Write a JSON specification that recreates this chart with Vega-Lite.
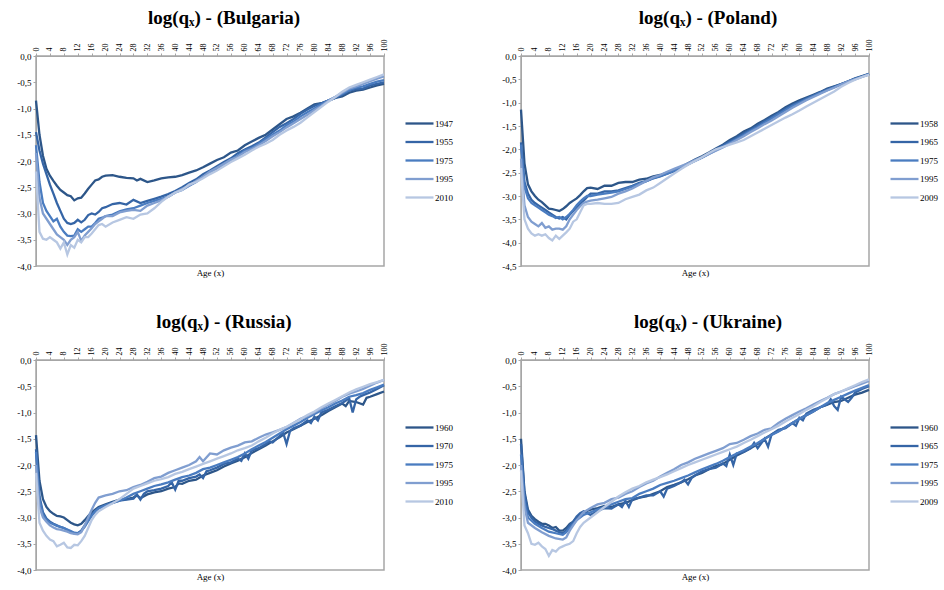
{
"$schema": "https://vega.github.io/schema/vega-lite/v6.json",
"background": "white",
"padding": {"left": 16, "top": 8, "right": 0, "bottom": 0},
"config": {
  "font": "Liberation Serif",
  "view": {"stroke": "#A6A6A6", "strokeWidth": 1.5},
  "axis": {"labelFont": "Liberation Serif", "titleFont": "Liberation Serif", "labelFontSize": 9, "titleFontSize": 9, "titleFontWeight": "normal", "labelColor": "#000", "titleColor": "#000", "domainColor": "#A6A6A6", "tickColor": "#A6A6A6", "grid": false, "tickSize": 3, "labelPadding": 2},
  "legend": {"labelFont": "Liberation Serif", "labelFontSize": 9, "labelColor": "#000", "orient": "none", "legendX": 375, "legendY": 59, "title": null, "symbolType": "M-2,0H2", "symbolSize": 196, "symbolStrokeWidth": 2.5, "rowPadding": 4.5, "labelOffset": 7},
  "title": {"font": "Liberation Serif", "fontSize": 19, "fontWeight": "bold", "color": "#000"},
  "line": {"strokeWidth": 2.3}
},
"columns": 2,
"spacing": {"row": 94, "column": 137},
"bounds": "flush",
"datasets": {
"bg": [
{"s":"1947","a":0,"v":-0.85},{"s":"1947","a":1,"v":-1.5},{"s":"1947","a":2,"v":-1.9},{"s":"1947","a":3,"v":-2.15},{"s":"1947","a":4,"v":-2.28},{"s":"1947","a":5,"v":-2.38},{"s":"1947","a":6,"v":-2.47},{"s":"1947","a":7,"v":-2.55},{"s":"1947","a":8,"v":-2.6},{"s":"1947","a":9,"v":-2.65},{"s":"1947","a":10,"v":-2.67},{"s":"1947","a":11,"v":-2.75},{"s":"1947","a":12,"v":-2.71},{"s":"1947","a":13,"v":-2.7},{"s":"1947","a":14,"v":-2.62},{"s":"1947","a":15,"v":-2.53},{"s":"1947","a":16,"v":-2.45},{"s":"1947","a":17,"v":-2.37},{"s":"1947","a":18,"v":-2.35},{"s":"1947","a":19,"v":-2.3},{"s":"1947","a":20,"v":-2.28},{"s":"1947","a":22,"v":-2.27},{"s":"1947","a":24,"v":-2.3},{"s":"1947","a":26,"v":-2.32},{"s":"1947","a":28,"v":-2.33},{"s":"1947","a":29,"v":-2.37},{"s":"1947","a":30,"v":-2.34},{"s":"1947","a":32,"v":-2.4},{"s":"1947","a":34,"v":-2.37},{"s":"1947","a":36,"v":-2.33},{"s":"1947","a":38,"v":-2.31},{"s":"1947","a":40,"v":-2.3},{"s":"1947","a":42,"v":-2.27},{"s":"1947","a":44,"v":-2.22},{"s":"1947","a":46,"v":-2.18},{"s":"1947","a":48,"v":-2.12},{"s":"1947","a":50,"v":-2.05},{"s":"1947","a":52,"v":-1.98},{"s":"1947","a":54,"v":-1.93},{"s":"1947","a":56,"v":-1.84},{"s":"1947","a":58,"v":-1.8},{"s":"1947","a":60,"v":-1.7},{"s":"1947","a":62,"v":-1.63},{"s":"1947","a":64,"v":-1.56},{"s":"1947","a":66,"v":-1.5},{"s":"1947","a":68,"v":-1.4},{"s":"1947","a":70,"v":-1.3},{"s":"1947","a":72,"v":-1.2},{"s":"1947","a":74,"v":-1.15},{"s":"1947","a":76,"v":-1.08},{"s":"1947","a":78,"v":-1.0},{"s":"1947","a":80,"v":-0.92},{"s":"1947","a":82,"v":-0.9},{"s":"1947","a":84,"v":-0.85},{"s":"1947","a":86,"v":-0.8},{"s":"1947","a":88,"v":-0.77},{"s":"1947","a":90,"v":-0.7},{"s":"1947","a":92,"v":-0.66},{"s":"1947","a":94,"v":-0.64},{"s":"1947","a":96,"v":-0.6},{"s":"1947","a":98,"v":-0.56},{"s":"1947","a":100,"v":-0.53},
{"s":"1955","a":0,"v":-1.45},{"s":"1955","a":1,"v":-1.8},{"s":"1955","a":2,"v":-2.05},{"s":"1955","a":3,"v":-2.25},{"s":"1955","a":4,"v":-2.45},{"s":"1955","a":5,"v":-2.62},{"s":"1955","a":6,"v":-2.8},{"s":"1955","a":7,"v":-2.95},{"s":"1955","a":8,"v":-3.1},{"s":"1955","a":9,"v":-3.18},{"s":"1955","a":10,"v":-3.2},{"s":"1955","a":11,"v":-3.18},{"s":"1955","a":12,"v":-3.12},{"s":"1955","a":13,"v":-3.17},{"s":"1955","a":14,"v":-3.12},{"s":"1955","a":15,"v":-3.03},{"s":"1955","a":16,"v":-3.0},{"s":"1955","a":17,"v":-3.02},{"s":"1955","a":18,"v":-2.97},{"s":"1955","a":19,"v":-2.9},{"s":"1955","a":20,"v":-2.88},{"s":"1955","a":22,"v":-2.82},{"s":"1955","a":24,"v":-2.8},{"s":"1955","a":26,"v":-2.83},{"s":"1955","a":28,"v":-2.74},{"s":"1955","a":30,"v":-2.8},{"s":"1955","a":32,"v":-2.76},{"s":"1955","a":34,"v":-2.72},{"s":"1955","a":36,"v":-2.68},{"s":"1955","a":38,"v":-2.63},{"s":"1955","a":40,"v":-2.57},{"s":"1955","a":42,"v":-2.5},{"s":"1955","a":44,"v":-2.42},{"s":"1955","a":46,"v":-2.35},{"s":"1955","a":48,"v":-2.25},{"s":"1955","a":50,"v":-2.18},{"s":"1955","a":52,"v":-2.1},{"s":"1955","a":54,"v":-2.02},{"s":"1955","a":56,"v":-1.95},{"s":"1955","a":58,"v":-1.85},{"s":"1955","a":60,"v":-1.78},{"s":"1955","a":62,"v":-1.72},{"s":"1955","a":64,"v":-1.65},{"s":"1955","a":66,"v":-1.55},{"s":"1955","a":68,"v":-1.45},{"s":"1955","a":70,"v":-1.35},{"s":"1955","a":72,"v":-1.28},{"s":"1955","a":74,"v":-1.2},{"s":"1955","a":76,"v":-1.1},{"s":"1955","a":78,"v":-1.02},{"s":"1955","a":80,"v":-0.95},{"s":"1955","a":82,"v":-0.9},{"s":"1955","a":84,"v":-0.85},{"s":"1955","a":86,"v":-0.8},{"s":"1955","a":88,"v":-0.74},{"s":"1955","a":90,"v":-0.66},{"s":"1955","a":92,"v":-0.63},{"s":"1955","a":94,"v":-0.62},{"s":"1955","a":96,"v":-0.56},{"s":"1955","a":98,"v":-0.53},{"s":"1955","a":100,"v":-0.5},
{"s":"1975","a":0,"v":-1.7},{"s":"1975","a":1,"v":-2.4},{"s":"1975","a":2,"v":-2.8},{"s":"1975","a":3,"v":-2.95},{"s":"1975","a":4,"v":-3.05},{"s":"1975","a":5,"v":-3.15},{"s":"1975","a":6,"v":-3.1},{"s":"1975","a":7,"v":-3.25},{"s":"1975","a":8,"v":-3.35},{"s":"1975","a":9,"v":-3.42},{"s":"1975","a":10,"v":-3.43},{"s":"1975","a":11,"v":-3.42},{"s":"1975","a":12,"v":-3.3},{"s":"1975","a":13,"v":-3.35},{"s":"1975","a":14,"v":-3.3},{"s":"1975","a":15,"v":-3.25},{"s":"1975","a":16,"v":-3.25},{"s":"1975","a":17,"v":-3.18},{"s":"1975","a":18,"v":-3.1},{"s":"1975","a":19,"v":-3.08},{"s":"1975","a":20,"v":-3.05},{"s":"1975","a":22,"v":-3.02},{"s":"1975","a":24,"v":-2.96},{"s":"1975","a":26,"v":-2.92},{"s":"1975","a":28,"v":-2.9},{"s":"1975","a":30,"v":-2.85},{"s":"1975","a":32,"v":-2.8},{"s":"1975","a":34,"v":-2.76},{"s":"1975","a":36,"v":-2.72},{"s":"1975","a":38,"v":-2.68},{"s":"1975","a":40,"v":-2.6},{"s":"1975","a":42,"v":-2.55},{"s":"1975","a":44,"v":-2.47},{"s":"1975","a":46,"v":-2.4},{"s":"1975","a":48,"v":-2.3},{"s":"1975","a":50,"v":-2.22},{"s":"1975","a":52,"v":-2.15},{"s":"1975","a":54,"v":-2.08},{"s":"1975","a":56,"v":-1.98},{"s":"1975","a":58,"v":-1.9},{"s":"1975","a":60,"v":-1.8},{"s":"1975","a":62,"v":-1.75},{"s":"1975","a":64,"v":-1.67},{"s":"1975","a":66,"v":-1.58},{"s":"1975","a":68,"v":-1.5},{"s":"1975","a":70,"v":-1.42},{"s":"1975","a":72,"v":-1.32},{"s":"1975","a":74,"v":-1.25},{"s":"1975","a":76,"v":-1.15},{"s":"1975","a":78,"v":-1.07},{"s":"1975","a":80,"v":-1.0},{"s":"1975","a":82,"v":-0.92},{"s":"1975","a":84,"v":-0.85},{"s":"1975","a":86,"v":-0.78},{"s":"1975","a":88,"v":-0.72},{"s":"1975","a":90,"v":-0.65},{"s":"1975","a":92,"v":-0.6},{"s":"1975","a":94,"v":-0.58},{"s":"1975","a":96,"v":-0.53},{"s":"1975","a":98,"v":-0.49},{"s":"1975","a":100,"v":-0.46},
{"s":"1995","a":0,"v":-1.85},{"s":"1995","a":1,"v":-2.7},{"s":"1995","a":2,"v":-3.0},{"s":"1995","a":3,"v":-3.1},{"s":"1995","a":4,"v":-3.2},{"s":"1995","a":5,"v":-3.3},{"s":"1995","a":6,"v":-3.4},{"s":"1995","a":7,"v":-3.45},{"s":"1995","a":8,"v":-3.5},{"s":"1995","a":9,"v":-3.6},{"s":"1995","a":10,"v":-3.5},{"s":"1995","a":11,"v":-3.45},{"s":"1995","a":12,"v":-3.35},{"s":"1995","a":13,"v":-3.52},{"s":"1995","a":14,"v":-3.42},{"s":"1995","a":15,"v":-3.35},{"s":"1995","a":16,"v":-3.28},{"s":"1995","a":17,"v":-3.2},{"s":"1995","a":18,"v":-3.15},{"s":"1995","a":19,"v":-3.1},{"s":"1995","a":20,"v":-3.05},{"s":"1995","a":22,"v":-3.05},{"s":"1995","a":24,"v":-2.98},{"s":"1995","a":26,"v":-2.95},{"s":"1995","a":28,"v":-2.93},{"s":"1995","a":30,"v":-2.95},{"s":"1995","a":32,"v":-2.85},{"s":"1995","a":34,"v":-2.8},{"s":"1995","a":36,"v":-2.75},{"s":"1995","a":38,"v":-2.68},{"s":"1995","a":40,"v":-2.6},{"s":"1995","a":42,"v":-2.53},{"s":"1995","a":44,"v":-2.47},{"s":"1995","a":46,"v":-2.38},{"s":"1995","a":48,"v":-2.3},{"s":"1995","a":50,"v":-2.2},{"s":"1995","a":52,"v":-2.13},{"s":"1995","a":54,"v":-2.05},{"s":"1995","a":56,"v":-1.97},{"s":"1995","a":58,"v":-1.92},{"s":"1995","a":60,"v":-1.83},{"s":"1995","a":62,"v":-1.77},{"s":"1995","a":64,"v":-1.7},{"s":"1995","a":66,"v":-1.62},{"s":"1995","a":68,"v":-1.53},{"s":"1995","a":70,"v":-1.45},{"s":"1995","a":72,"v":-1.36},{"s":"1995","a":74,"v":-1.28},{"s":"1995","a":76,"v":-1.2},{"s":"1995","a":78,"v":-1.12},{"s":"1995","a":80,"v":-1.03},{"s":"1995","a":82,"v":-0.95},{"s":"1995","a":84,"v":-0.85},{"s":"1995","a":86,"v":-0.78},{"s":"1995","a":88,"v":-0.7},{"s":"1995","a":90,"v":-0.62},{"s":"1995","a":92,"v":-0.58},{"s":"1995","a":94,"v":-0.53},{"s":"1995","a":96,"v":-0.48},{"s":"1995","a":98,"v":-0.43},{"s":"1995","a":100,"v":-0.39},
{"s":"2010","a":0,"v":-2.2},{"s":"2010","a":1,"v":-3.35},{"s":"2010","a":2,"v":-3.48},{"s":"2010","a":3,"v":-3.5},{"s":"2010","a":4,"v":-3.45},{"s":"2010","a":5,"v":-3.5},{"s":"2010","a":6,"v":-3.55},{"s":"2010","a":7,"v":-3.67},{"s":"2010","a":8,"v":-3.55},{"s":"2010","a":9,"v":-3.78},{"s":"2010","a":10,"v":-3.6},{"s":"2010","a":11,"v":-3.65},{"s":"2010","a":12,"v":-3.5},{"s":"2010","a":13,"v":-3.55},{"s":"2010","a":14,"v":-3.45},{"s":"2010","a":15,"v":-3.45},{"s":"2010","a":16,"v":-3.38},{"s":"2010","a":17,"v":-3.3},{"s":"2010","a":18,"v":-3.22},{"s":"2010","a":19,"v":-3.2},{"s":"2010","a":20,"v":-3.25},{"s":"2010","a":22,"v":-3.17},{"s":"2010","a":24,"v":-3.12},{"s":"2010","a":26,"v":-3.07},{"s":"2010","a":28,"v":-3.1},{"s":"2010","a":30,"v":-3.02},{"s":"2010","a":32,"v":-3.0},{"s":"2010","a":34,"v":-2.9},{"s":"2010","a":36,"v":-2.78},{"s":"2010","a":38,"v":-2.68},{"s":"2010","a":40,"v":-2.6},{"s":"2010","a":42,"v":-2.55},{"s":"2010","a":44,"v":-2.45},{"s":"2010","a":46,"v":-2.4},{"s":"2010","a":48,"v":-2.33},{"s":"2010","a":50,"v":-2.25},{"s":"2010","a":52,"v":-2.18},{"s":"2010","a":54,"v":-2.1},{"s":"2010","a":56,"v":-2.02},{"s":"2010","a":58,"v":-1.95},{"s":"2010","a":60,"v":-1.88},{"s":"2010","a":62,"v":-1.8},{"s":"2010","a":64,"v":-1.73},{"s":"2010","a":66,"v":-1.67},{"s":"2010","a":68,"v":-1.6},{"s":"2010","a":70,"v":-1.5},{"s":"2010","a":72,"v":-1.42},{"s":"2010","a":74,"v":-1.35},{"s":"2010","a":76,"v":-1.27},{"s":"2010","a":78,"v":-1.17},{"s":"2010","a":80,"v":-1.07},{"s":"2010","a":82,"v":-0.97},{"s":"2010","a":84,"v":-0.87},{"s":"2010","a":86,"v":-0.78},{"s":"2010","a":88,"v":-0.68},{"s":"2010","a":90,"v":-0.6},{"s":"2010","a":92,"v":-0.55},{"s":"2010","a":94,"v":-0.5},{"s":"2010","a":96,"v":-0.45},{"s":"2010","a":98,"v":-0.4},{"s":"2010","a":100,"v":-0.35}
],
"pl": [
{"s":"1958","a":0,"v":-1.15},{"s":"1958","a":1,"v":-2.3},{"s":"1958","a":2,"v":-2.75},{"s":"1958","a":3,"v":-2.9},{"s":"1958","a":4,"v":-3.0},{"s":"1958","a":5,"v":-3.08},{"s":"1958","a":6,"v":-3.13},{"s":"1958","a":7,"v":-3.2},{"s":"1958","a":8,"v":-3.27},{"s":"1958","a":9,"v":-3.28},{"s":"1958","a":10,"v":-3.3},{"s":"1958","a":11,"v":-3.32},{"s":"1958","a":12,"v":-3.28},{"s":"1958","a":13,"v":-3.22},{"s":"1958","a":14,"v":-3.15},{"s":"1958","a":15,"v":-3.1},{"s":"1958","a":16,"v":-3.05},{"s":"1958","a":17,"v":-2.98},{"s":"1958","a":18,"v":-2.9},{"s":"1958","a":19,"v":-2.83},{"s":"1958","a":20,"v":-2.82},{"s":"1958","a":22,"v":-2.85},{"s":"1958","a":24,"v":-2.78},{"s":"1958","a":26,"v":-2.78},{"s":"1958","a":28,"v":-2.72},{"s":"1958","a":30,"v":-2.7},{"s":"1958","a":32,"v":-2.7},{"s":"1958","a":34,"v":-2.65},{"s":"1958","a":36,"v":-2.63},{"s":"1958","a":38,"v":-2.58},{"s":"1958","a":40,"v":-2.55},{"s":"1958","a":42,"v":-2.5},{"s":"1958","a":44,"v":-2.45},{"s":"1958","a":46,"v":-2.38},{"s":"1958","a":48,"v":-2.3},{"s":"1958","a":50,"v":-2.22},{"s":"1958","a":52,"v":-2.15},{"s":"1958","a":54,"v":-2.07},{"s":"1958","a":56,"v":-1.98},{"s":"1958","a":58,"v":-1.9},{"s":"1958","a":60,"v":-1.8},{"s":"1958","a":62,"v":-1.72},{"s":"1958","a":64,"v":-1.62},{"s":"1958","a":66,"v":-1.55},{"s":"1958","a":68,"v":-1.45},{"s":"1958","a":70,"v":-1.37},{"s":"1958","a":72,"v":-1.28},{"s":"1958","a":74,"v":-1.2},{"s":"1958","a":76,"v":-1.1},{"s":"1958","a":78,"v":-1.02},{"s":"1958","a":80,"v":-0.95},{"s":"1958","a":82,"v":-0.89},{"s":"1958","a":84,"v":-0.83},{"s":"1958","a":86,"v":-0.77},{"s":"1958","a":88,"v":-0.7},{"s":"1958","a":90,"v":-0.65},{"s":"1958","a":92,"v":-0.6},{"s":"1958","a":94,"v":-0.54},{"s":"1958","a":96,"v":-0.48},{"s":"1958","a":98,"v":-0.43},{"s":"1958","a":100,"v":-0.38},
{"s":"1965","a":0,"v":-1.85},{"s":"1965","a":1,"v":-2.7},{"s":"1965","a":2,"v":-2.95},{"s":"1965","a":3,"v":-3.08},{"s":"1965","a":4,"v":-3.15},{"s":"1965","a":5,"v":-3.2},{"s":"1965","a":6,"v":-3.25},{"s":"1965","a":7,"v":-3.3},{"s":"1965","a":8,"v":-3.35},{"s":"1965","a":9,"v":-3.4},{"s":"1965","a":10,"v":-3.45},{"s":"1965","a":11,"v":-3.48},{"s":"1965","a":12,"v":-3.45},{"s":"1965","a":13,"v":-3.5},{"s":"1965","a":14,"v":-3.4},{"s":"1965","a":15,"v":-3.32},{"s":"1965","a":16,"v":-3.25},{"s":"1965","a":17,"v":-3.17},{"s":"1965","a":18,"v":-3.1},{"s":"1965","a":19,"v":-3.02},{"s":"1965","a":20,"v":-2.95},{"s":"1965","a":22,"v":-2.95},{"s":"1965","a":24,"v":-2.9},{"s":"1965","a":26,"v":-2.9},{"s":"1965","a":28,"v":-2.88},{"s":"1965","a":30,"v":-2.83},{"s":"1965","a":32,"v":-2.78},{"s":"1965","a":34,"v":-2.72},{"s":"1965","a":36,"v":-2.68},{"s":"1965","a":38,"v":-2.62},{"s":"1965","a":40,"v":-2.58},{"s":"1965","a":42,"v":-2.52},{"s":"1965","a":44,"v":-2.47},{"s":"1965","a":46,"v":-2.4},{"s":"1965","a":48,"v":-2.32},{"s":"1965","a":50,"v":-2.24},{"s":"1965","a":52,"v":-2.17},{"s":"1965","a":54,"v":-2.09},{"s":"1965","a":56,"v":-2.0},{"s":"1965","a":58,"v":-1.92},{"s":"1965","a":60,"v":-1.83},{"s":"1965","a":62,"v":-1.75},{"s":"1965","a":64,"v":-1.66},{"s":"1965","a":66,"v":-1.58},{"s":"1965","a":68,"v":-1.49},{"s":"1965","a":70,"v":-1.4},{"s":"1965","a":72,"v":-1.31},{"s":"1965","a":74,"v":-1.22},{"s":"1965","a":76,"v":-1.13},{"s":"1965","a":78,"v":-1.05},{"s":"1965","a":80,"v":-0.98},{"s":"1965","a":82,"v":-0.91},{"s":"1965","a":84,"v":-0.85},{"s":"1965","a":86,"v":-0.78},{"s":"1965","a":88,"v":-0.72},{"s":"1965","a":90,"v":-0.66},{"s":"1965","a":92,"v":-0.6},{"s":"1965","a":94,"v":-0.55},{"s":"1965","a":96,"v":-0.49},{"s":"1965","a":98,"v":-0.44},{"s":"1965","a":100,"v":-0.39},
{"s":"1975","a":0,"v":-1.9},{"s":"1975","a":1,"v":-2.8},{"s":"1975","a":2,"v":-3.05},{"s":"1975","a":3,"v":-3.15},{"s":"1975","a":4,"v":-3.2},{"s":"1975","a":5,"v":-3.25},{"s":"1975","a":6,"v":-3.3},{"s":"1975","a":7,"v":-3.35},{"s":"1975","a":8,"v":-3.4},{"s":"1975","a":9,"v":-3.43},{"s":"1975","a":10,"v":-3.47},{"s":"1975","a":11,"v":-3.45},{"s":"1975","a":12,"v":-3.5},{"s":"1975","a":13,"v":-3.45},{"s":"1975","a":14,"v":-3.38},{"s":"1975","a":15,"v":-3.3},{"s":"1975","a":16,"v":-3.2},{"s":"1975","a":17,"v":-3.12},{"s":"1975","a":18,"v":-3.05},{"s":"1975","a":19,"v":-3.0},{"s":"1975","a":20,"v":-3.0},{"s":"1975","a":22,"v":-2.97},{"s":"1975","a":24,"v":-2.95},{"s":"1975","a":26,"v":-2.93},{"s":"1975","a":28,"v":-2.9},{"s":"1975","a":30,"v":-2.85},{"s":"1975","a":32,"v":-2.8},{"s":"1975","a":34,"v":-2.74},{"s":"1975","a":36,"v":-2.68},{"s":"1975","a":38,"v":-2.62},{"s":"1975","a":40,"v":-2.57},{"s":"1975","a":42,"v":-2.52},{"s":"1975","a":44,"v":-2.46},{"s":"1975","a":46,"v":-2.4},{"s":"1975","a":48,"v":-2.32},{"s":"1975","a":50,"v":-2.25},{"s":"1975","a":52,"v":-2.18},{"s":"1975","a":54,"v":-2.1},{"s":"1975","a":56,"v":-2.02},{"s":"1975","a":58,"v":-1.94},{"s":"1975","a":60,"v":-1.86},{"s":"1975","a":62,"v":-1.78},{"s":"1975","a":64,"v":-1.69},{"s":"1975","a":66,"v":-1.6},{"s":"1975","a":68,"v":-1.52},{"s":"1975","a":70,"v":-1.43},{"s":"1975","a":72,"v":-1.34},{"s":"1975","a":74,"v":-1.25},{"s":"1975","a":76,"v":-1.16},{"s":"1975","a":78,"v":-1.07},{"s":"1975","a":80,"v":-1.0},{"s":"1975","a":82,"v":-0.93},{"s":"1975","a":84,"v":-0.86},{"s":"1975","a":86,"v":-0.79},{"s":"1975","a":88,"v":-0.73},{"s":"1975","a":90,"v":-0.67},{"s":"1975","a":92,"v":-0.61},{"s":"1975","a":94,"v":-0.55},{"s":"1975","a":96,"v":-0.49},{"s":"1975","a":98,"v":-0.44},{"s":"1975","a":100,"v":-0.39},
{"s":"1995","a":0,"v":-2.2},{"s":"1995","a":1,"v":-3.2},{"s":"1995","a":2,"v":-3.45},{"s":"1995","a":3,"v":-3.55},{"s":"1995","a":4,"v":-3.6},{"s":"1995","a":5,"v":-3.65},{"s":"1995","a":6,"v":-3.58},{"s":"1995","a":7,"v":-3.68},{"s":"1995","a":8,"v":-3.65},{"s":"1995","a":9,"v":-3.72},{"s":"1995","a":10,"v":-3.7},{"s":"1995","a":11,"v":-3.7},{"s":"1995","a":12,"v":-3.72},{"s":"1995","a":13,"v":-3.65},{"s":"1995","a":14,"v":-3.5},{"s":"1995","a":15,"v":-3.4},{"s":"1995","a":16,"v":-3.3},{"s":"1995","a":17,"v":-3.22},{"s":"1995","a":18,"v":-3.15},{"s":"1995","a":19,"v":-3.12},{"s":"1995","a":20,"v":-3.1},{"s":"1995","a":22,"v":-3.08},{"s":"1995","a":24,"v":-3.05},{"s":"1995","a":26,"v":-3.02},{"s":"1995","a":28,"v":-2.95},{"s":"1995","a":30,"v":-2.9},{"s":"1995","a":32,"v":-2.84},{"s":"1995","a":34,"v":-2.76},{"s":"1995","a":36,"v":-2.68},{"s":"1995","a":38,"v":-2.6},{"s":"1995","a":40,"v":-2.55},{"s":"1995","a":42,"v":-2.48},{"s":"1995","a":44,"v":-2.42},{"s":"1995","a":46,"v":-2.36},{"s":"1995","a":48,"v":-2.3},{"s":"1995","a":50,"v":-2.23},{"s":"1995","a":52,"v":-2.17},{"s":"1995","a":54,"v":-2.1},{"s":"1995","a":56,"v":-2.03},{"s":"1995","a":58,"v":-1.96},{"s":"1995","a":60,"v":-1.88},{"s":"1995","a":62,"v":-1.8},{"s":"1995","a":64,"v":-1.72},{"s":"1995","a":66,"v":-1.63},{"s":"1995","a":68,"v":-1.55},{"s":"1995","a":70,"v":-1.46},{"s":"1995","a":72,"v":-1.38},{"s":"1995","a":74,"v":-1.29},{"s":"1995","a":76,"v":-1.2},{"s":"1995","a":78,"v":-1.11},{"s":"1995","a":80,"v":-1.03},{"s":"1995","a":82,"v":-0.95},{"s":"1995","a":84,"v":-0.88},{"s":"1995","a":86,"v":-0.81},{"s":"1995","a":88,"v":-0.74},{"s":"1995","a":90,"v":-0.68},{"s":"1995","a":92,"v":-0.61},{"s":"1995","a":94,"v":-0.55},{"s":"1995","a":96,"v":-0.5},{"s":"1995","a":98,"v":-0.45},{"s":"1995","a":100,"v":-0.4},
{"s":"2009","a":0,"v":-2.4},{"s":"2009","a":1,"v":-3.5},{"s":"2009","a":2,"v":-3.7},{"s":"2009","a":3,"v":-3.8},{"s":"2009","a":4,"v":-3.85},{"s":"2009","a":5,"v":-3.82},{"s":"2009","a":6,"v":-3.85},{"s":"2009","a":7,"v":-3.82},{"s":"2009","a":8,"v":-3.9},{"s":"2009","a":9,"v":-3.95},{"s":"2009","a":10,"v":-3.85},{"s":"2009","a":11,"v":-3.92},{"s":"2009","a":12,"v":-3.85},{"s":"2009","a":13,"v":-3.78},{"s":"2009","a":14,"v":-3.7},{"s":"2009","a":15,"v":-3.55},{"s":"2009","a":16,"v":-3.5},{"s":"2009","a":17,"v":-3.35},{"s":"2009","a":18,"v":-3.2},{"s":"2009","a":19,"v":-3.17},{"s":"2009","a":20,"v":-3.17},{"s":"2009","a":22,"v":-3.15},{"s":"2009","a":24,"v":-3.17},{"s":"2009","a":26,"v":-3.17},{"s":"2009","a":28,"v":-3.15},{"s":"2009","a":30,"v":-3.07},{"s":"2009","a":32,"v":-3.02},{"s":"2009","a":34,"v":-2.97},{"s":"2009","a":36,"v":-2.88},{"s":"2009","a":38,"v":-2.82},{"s":"2009","a":40,"v":-2.72},{"s":"2009","a":42,"v":-2.62},{"s":"2009","a":44,"v":-2.52},{"s":"2009","a":46,"v":-2.42},{"s":"2009","a":48,"v":-2.33},{"s":"2009","a":50,"v":-2.25},{"s":"2009","a":52,"v":-2.17},{"s":"2009","a":54,"v":-2.08},{"s":"2009","a":56,"v":-2.0},{"s":"2009","a":58,"v":-1.95},{"s":"2009","a":60,"v":-1.9},{"s":"2009","a":62,"v":-1.85},{"s":"2009","a":64,"v":-1.8},{"s":"2009","a":66,"v":-1.72},{"s":"2009","a":68,"v":-1.64},{"s":"2009","a":70,"v":-1.56},{"s":"2009","a":72,"v":-1.48},{"s":"2009","a":74,"v":-1.4},{"s":"2009","a":76,"v":-1.32},{"s":"2009","a":78,"v":-1.25},{"s":"2009","a":80,"v":-1.17},{"s":"2009","a":82,"v":-1.08},{"s":"2009","a":84,"v":-1.0},{"s":"2009","a":86,"v":-0.92},{"s":"2009","a":88,"v":-0.84},{"s":"2009","a":90,"v":-0.76},{"s":"2009","a":92,"v":-0.66},{"s":"2009","a":94,"v":-0.58},{"s":"2009","a":96,"v":-0.51},{"s":"2009","a":98,"v":-0.45},{"s":"2009","a":100,"v":-0.4}
],
"ru": [
{"s":"1960","a":0,"v":-1.43},{"s":"1960","a":1,"v":-2.3},{"s":"1960","a":2,"v":-2.65},{"s":"1960","a":3,"v":-2.8},{"s":"1960","a":4,"v":-2.88},{"s":"1960","a":5,"v":-2.93},{"s":"1960","a":6,"v":-2.97},{"s":"1960","a":7,"v":-2.98},{"s":"1960","a":8,"v":-3.0},{"s":"1960","a":9,"v":-3.05},{"s":"1960","a":10,"v":-3.1},{"s":"1960","a":11,"v":-3.13},{"s":"1960","a":12,"v":-3.15},{"s":"1960","a":13,"v":-3.12},{"s":"1960","a":14,"v":-3.05},{"s":"1960","a":15,"v":-2.97},{"s":"1960","a":16,"v":-2.9},{"s":"1960","a":17,"v":-2.85},{"s":"1960","a":18,"v":-2.8},{"s":"1960","a":20,"v":-2.75},{"s":"1960","a":22,"v":-2.7},{"s":"1960","a":24,"v":-2.66},{"s":"1960","a":26,"v":-2.65},{"s":"1960","a":28,"v":-2.62},{"s":"1960","a":29,"v":-2.58},{"s":"1960","a":30,"v":-2.63},{"s":"1960","a":32,"v":-2.56},{"s":"1960","a":34,"v":-2.52},{"s":"1960","a":36,"v":-2.5},{"s":"1960","a":38,"v":-2.45},{"s":"1960","a":40,"v":-2.42},{"s":"1960","a":41,"v":-2.35},{"s":"1960","a":42,"v":-2.36},{"s":"1960","a":44,"v":-2.3},{"s":"1960","a":46,"v":-2.28},{"s":"1960","a":48,"v":-2.2},{"s":"1960","a":50,"v":-2.15},{"s":"1960","a":52,"v":-2.1},{"s":"1960","a":54,"v":-2.03},{"s":"1960","a":56,"v":-1.97},{"s":"1960","a":58,"v":-1.92},{"s":"1960","a":60,"v":-1.85},{"s":"1960","a":62,"v":-1.77},{"s":"1960","a":64,"v":-1.7},{"s":"1960","a":66,"v":-1.63},{"s":"1960","a":68,"v":-1.55},{"s":"1960","a":70,"v":-1.47},{"s":"1960","a":72,"v":-1.38},{"s":"1960","a":74,"v":-1.32},{"s":"1960","a":76,"v":-1.25},{"s":"1960","a":78,"v":-1.18},{"s":"1960","a":80,"v":-1.12},{"s":"1960","a":82,"v":-1.05},{"s":"1960","a":84,"v":-0.97},{"s":"1960","a":86,"v":-0.9},{"s":"1960","a":88,"v":-0.83},{"s":"1960","a":89,"v":-0.88},{"s":"1960","a":90,"v":-0.78},{"s":"1960","a":92,"v":-0.8},{"s":"1960","a":94,"v":-0.85},{"s":"1960","a":95,"v":-0.72},{"s":"1960","a":96,"v":-0.7},{"s":"1960","a":98,"v":-0.65},{"s":"1960","a":100,"v":-0.6},
{"s":"1970","a":0,"v":-1.7},{"s":"1970","a":1,"v":-2.6},{"s":"1970","a":2,"v":-2.9},{"s":"1970","a":3,"v":-3.02},{"s":"1970","a":4,"v":-3.08},{"s":"1970","a":5,"v":-3.12},{"s":"1970","a":6,"v":-3.15},{"s":"1970","a":7,"v":-3.18},{"s":"1970","a":8,"v":-3.2},{"s":"1970","a":9,"v":-3.24},{"s":"1970","a":10,"v":-3.27},{"s":"1970","a":11,"v":-3.3},{"s":"1970","a":12,"v":-3.3},{"s":"1970","a":13,"v":-3.25},{"s":"1970","a":14,"v":-3.15},{"s":"1970","a":15,"v":-3.05},{"s":"1970","a":16,"v":-2.95},{"s":"1970","a":17,"v":-2.88},{"s":"1970","a":18,"v":-2.82},{"s":"1970","a":20,"v":-2.77},{"s":"1970","a":22,"v":-2.72},{"s":"1970","a":24,"v":-2.68},{"s":"1970","a":26,"v":-2.66},{"s":"1970","a":28,"v":-2.64},{"s":"1970","a":29,"v":-2.56},{"s":"1970","a":30,"v":-2.66},{"s":"1970","a":31,"v":-2.55},{"s":"1970","a":32,"v":-2.5},{"s":"1970","a":34,"v":-2.48},{"s":"1970","a":36,"v":-2.45},{"s":"1970","a":38,"v":-2.4},{"s":"1970","a":39,"v":-2.33},{"s":"1970","a":40,"v":-2.47},{"s":"1970","a":41,"v":-2.3},{"s":"1970","a":42,"v":-2.3},{"s":"1970","a":44,"v":-2.25},{"s":"1970","a":46,"v":-2.22},{"s":"1970","a":47,"v":-2.18},{"s":"1970","a":48,"v":-2.25},{"s":"1970","a":49,"v":-2.12},{"s":"1970","a":50,"v":-2.1},{"s":"1970","a":52,"v":-2.05},{"s":"1970","a":54,"v":-1.98},{"s":"1970","a":56,"v":-1.95},{"s":"1970","a":58,"v":-1.88},{"s":"1970","a":59,"v":-1.92},{"s":"1970","a":60,"v":-1.78},{"s":"1970","a":61,"v":-1.88},{"s":"1970","a":62,"v":-1.72},{"s":"1970","a":64,"v":-1.68},{"s":"1970","a":66,"v":-1.6},{"s":"1970","a":67,"v":-1.55},{"s":"1970","a":68,"v":-1.57},{"s":"1970","a":70,"v":-1.45},{"s":"1970","a":71,"v":-1.38},{"s":"1970","a":72,"v":-1.6},{"s":"1970","a":73,"v":-1.35},{"s":"1970","a":74,"v":-1.3},{"s":"1970","a":76,"v":-1.25},{"s":"1970","a":78,"v":-1.15},{"s":"1970","a":79,"v":-1.2},{"s":"1970","a":80,"v":-1.08},{"s":"1970","a":81,"v":-1.15},{"s":"1970","a":82,"v":-1.0},{"s":"1970","a":84,"v":-0.95},{"s":"1970","a":86,"v":-0.88},{"s":"1970","a":88,"v":-0.82},{"s":"1970","a":90,"v":-0.73},{"s":"1970","a":91,"v":-1.0},{"s":"1970","a":92,"v":-0.75},{"s":"1970","a":93,"v":-0.7},{"s":"1970","a":94,"v":-0.67},{"s":"1970","a":96,"v":-0.62},{"s":"1970","a":98,"v":-0.55},{"s":"1970","a":100,"v":-0.48},
{"s":"1975","a":0,"v":-1.75},{"s":"1975","a":1,"v":-2.65},{"s":"1975","a":2,"v":-2.95},{"s":"1975","a":3,"v":-3.05},{"s":"1975","a":4,"v":-3.1},{"s":"1975","a":5,"v":-3.13},{"s":"1975","a":6,"v":-3.16},{"s":"1975","a":7,"v":-3.18},{"s":"1975","a":8,"v":-3.2},{"s":"1975","a":9,"v":-3.23},{"s":"1975","a":10,"v":-3.26},{"s":"1975","a":11,"v":-3.29},{"s":"1975","a":12,"v":-3.3},{"s":"1975","a":13,"v":-3.26},{"s":"1975","a":14,"v":-3.18},{"s":"1975","a":15,"v":-3.07},{"s":"1975","a":16,"v":-2.97},{"s":"1975","a":17,"v":-2.88},{"s":"1975","a":18,"v":-2.83},{"s":"1975","a":20,"v":-2.77},{"s":"1975","a":22,"v":-2.72},{"s":"1975","a":24,"v":-2.68},{"s":"1975","a":26,"v":-2.62},{"s":"1975","a":28,"v":-2.55},{"s":"1975","a":30,"v":-2.5},{"s":"1975","a":32,"v":-2.45},{"s":"1975","a":34,"v":-2.4},{"s":"1975","a":36,"v":-2.37},{"s":"1975","a":38,"v":-2.33},{"s":"1975","a":40,"v":-2.28},{"s":"1975","a":42,"v":-2.23},{"s":"1975","a":44,"v":-2.2},{"s":"1975","a":46,"v":-2.15},{"s":"1975","a":48,"v":-2.08},{"s":"1975","a":50,"v":-2.05},{"s":"1975","a":52,"v":-2.0},{"s":"1975","a":54,"v":-1.95},{"s":"1975","a":56,"v":-1.9},{"s":"1975","a":58,"v":-1.85},{"s":"1975","a":60,"v":-1.78},{"s":"1975","a":62,"v":-1.7},{"s":"1975","a":64,"v":-1.63},{"s":"1975","a":66,"v":-1.56},{"s":"1975","a":68,"v":-1.48},{"s":"1975","a":70,"v":-1.4},{"s":"1975","a":72,"v":-1.32},{"s":"1975","a":74,"v":-1.25},{"s":"1975","a":76,"v":-1.18},{"s":"1975","a":78,"v":-1.1},{"s":"1975","a":80,"v":-1.03},{"s":"1975","a":82,"v":-0.96},{"s":"1975","a":84,"v":-0.9},{"s":"1975","a":86,"v":-0.83},{"s":"1975","a":88,"v":-0.77},{"s":"1975","a":90,"v":-0.7},{"s":"1975","a":92,"v":-0.67},{"s":"1975","a":94,"v":-0.63},{"s":"1975","a":96,"v":-0.57},{"s":"1975","a":98,"v":-0.52},{"s":"1975","a":100,"v":-0.47},
{"s":"1995","a":0,"v":-2.0},{"s":"1995","a":1,"v":-2.8},{"s":"1995","a":2,"v":-3.0},{"s":"1995","a":3,"v":-3.08},{"s":"1995","a":4,"v":-3.15},{"s":"1995","a":5,"v":-3.19},{"s":"1995","a":6,"v":-3.22},{"s":"1995","a":7,"v":-3.23},{"s":"1995","a":8,"v":-3.25},{"s":"1995","a":9,"v":-3.27},{"s":"1995","a":10,"v":-3.3},{"s":"1995","a":11,"v":-3.31},{"s":"1995","a":12,"v":-3.32},{"s":"1995","a":13,"v":-3.28},{"s":"1995","a":14,"v":-3.15},{"s":"1995","a":15,"v":-3.0},{"s":"1995","a":16,"v":-2.85},{"s":"1995","a":17,"v":-2.72},{"s":"1995","a":18,"v":-2.62},{"s":"1995","a":20,"v":-2.58},{"s":"1995","a":22,"v":-2.55},{"s":"1995","a":24,"v":-2.5},{"s":"1995","a":26,"v":-2.48},{"s":"1995","a":28,"v":-2.42},{"s":"1995","a":30,"v":-2.38},{"s":"1995","a":32,"v":-2.32},{"s":"1995","a":34,"v":-2.25},{"s":"1995","a":36,"v":-2.22},{"s":"1995","a":38,"v":-2.15},{"s":"1995","a":40,"v":-2.1},{"s":"1995","a":42,"v":-2.05},{"s":"1995","a":44,"v":-2.0},{"s":"1995","a":46,"v":-1.93},{"s":"1995","a":47,"v":-1.85},{"s":"1995","a":48,"v":-1.93},{"s":"1995","a":50,"v":-1.78},{"s":"1995","a":52,"v":-1.8},{"s":"1995","a":54,"v":-1.72},{"s":"1995","a":56,"v":-1.67},{"s":"1995","a":58,"v":-1.63},{"s":"1995","a":60,"v":-1.57},{"s":"1995","a":62,"v":-1.55},{"s":"1995","a":64,"v":-1.48},{"s":"1995","a":66,"v":-1.42},{"s":"1995","a":68,"v":-1.38},{"s":"1995","a":70,"v":-1.33},{"s":"1995","a":72,"v":-1.28},{"s":"1995","a":74,"v":-1.2},{"s":"1995","a":76,"v":-1.12},{"s":"1995","a":78,"v":-1.07},{"s":"1995","a":80,"v":-1.0},{"s":"1995","a":82,"v":-0.92},{"s":"1995","a":84,"v":-0.85},{"s":"1995","a":86,"v":-0.78},{"s":"1995","a":88,"v":-0.7},{"s":"1995","a":90,"v":-0.64},{"s":"1995","a":92,"v":-0.6},{"s":"1995","a":94,"v":-0.55},{"s":"1995","a":96,"v":-0.49},{"s":"1995","a":98,"v":-0.43},{"s":"1995","a":100,"v":-0.38},
{"s":"2010","a":0,"v":-2.15},{"s":"2010","a":1,"v":-3.1},{"s":"2010","a":2,"v":-3.25},{"s":"2010","a":3,"v":-3.35},{"s":"2010","a":4,"v":-3.42},{"s":"2010","a":5,"v":-3.45},{"s":"2010","a":6,"v":-3.55},{"s":"2010","a":7,"v":-3.52},{"s":"2010","a":8,"v":-3.48},{"s":"2010","a":9,"v":-3.57},{"s":"2010","a":10,"v":-3.58},{"s":"2010","a":11,"v":-3.52},{"s":"2010","a":12,"v":-3.53},{"s":"2010","a":13,"v":-3.45},{"s":"2010","a":14,"v":-3.35},{"s":"2010","a":15,"v":-3.2},{"s":"2010","a":16,"v":-3.05},{"s":"2010","a":17,"v":-2.95},{"s":"2010","a":18,"v":-2.88},{"s":"2010","a":20,"v":-2.8},{"s":"2010","a":22,"v":-2.73},{"s":"2010","a":24,"v":-2.65},{"s":"2010","a":26,"v":-2.55},{"s":"2010","a":28,"v":-2.45},{"s":"2010","a":30,"v":-2.4},{"s":"2010","a":32,"v":-2.35},{"s":"2010","a":34,"v":-2.3},{"s":"2010","a":36,"v":-2.27},{"s":"2010","a":38,"v":-2.23},{"s":"2010","a":40,"v":-2.17},{"s":"2010","a":42,"v":-2.13},{"s":"2010","a":44,"v":-2.08},{"s":"2010","a":46,"v":-2.03},{"s":"2010","a":48,"v":-1.98},{"s":"2010","a":50,"v":-1.93},{"s":"2010","a":52,"v":-1.88},{"s":"2010","a":54,"v":-1.83},{"s":"2010","a":56,"v":-1.78},{"s":"2010","a":58,"v":-1.72},{"s":"2010","a":60,"v":-1.68},{"s":"2010","a":62,"v":-1.63},{"s":"2010","a":64,"v":-1.55},{"s":"2010","a":66,"v":-1.48},{"s":"2010","a":68,"v":-1.4},{"s":"2010","a":70,"v":-1.33},{"s":"2010","a":72,"v":-1.27},{"s":"2010","a":74,"v":-1.2},{"s":"2010","a":76,"v":-1.13},{"s":"2010","a":78,"v":-1.05},{"s":"2010","a":80,"v":-0.98},{"s":"2010","a":82,"v":-0.9},{"s":"2010","a":84,"v":-0.83},{"s":"2010","a":86,"v":-0.76},{"s":"2010","a":88,"v":-0.69},{"s":"2010","a":90,"v":-0.62},{"s":"2010","a":92,"v":-0.56},{"s":"2010","a":94,"v":-0.51},{"s":"2010","a":96,"v":-0.46},{"s":"2010","a":98,"v":-0.42},{"s":"2010","a":100,"v":-0.38}
],
"ua": [
{"s":"1960","a":0,"v":-1.5},{"s":"1960","a":1,"v":-2.5},{"s":"1960","a":2,"v":-2.85},{"s":"1960","a":3,"v":-2.97},{"s":"1960","a":4,"v":-3.03},{"s":"1960","a":5,"v":-3.08},{"s":"1960","a":6,"v":-3.12},{"s":"1960","a":7,"v":-3.12},{"s":"1960","a":8,"v":-3.15},{"s":"1960","a":9,"v":-3.2},{"s":"1960","a":10,"v":-3.18},{"s":"1960","a":11,"v":-3.25},{"s":"1960","a":12,"v":-3.25},{"s":"1960","a":13,"v":-3.2},{"s":"1960","a":14,"v":-3.12},{"s":"1960","a":15,"v":-3.08},{"s":"1960","a":16,"v":-3.0},{"s":"1960","a":17,"v":-2.95},{"s":"1960","a":18,"v":-2.9},{"s":"1960","a":20,"v":-2.85},{"s":"1960","a":22,"v":-2.82},{"s":"1960","a":24,"v":-2.78},{"s":"1960","a":26,"v":-2.8},{"s":"1960","a":28,"v":-2.75},{"s":"1960","a":30,"v":-2.72},{"s":"1960","a":32,"v":-2.67},{"s":"1960","a":34,"v":-2.62},{"s":"1960","a":36,"v":-2.6},{"s":"1960","a":38,"v":-2.55},{"s":"1960","a":40,"v":-2.5},{"s":"1960","a":42,"v":-2.42},{"s":"1960","a":44,"v":-2.38},{"s":"1960","a":46,"v":-2.33},{"s":"1960","a":48,"v":-2.27},{"s":"1960","a":50,"v":-2.2},{"s":"1960","a":52,"v":-2.15},{"s":"1960","a":54,"v":-2.08},{"s":"1960","a":56,"v":-2.02},{"s":"1960","a":58,"v":-1.98},{"s":"1960","a":60,"v":-1.9},{"s":"1960","a":62,"v":-1.82},{"s":"1960","a":64,"v":-1.75},{"s":"1960","a":66,"v":-1.68},{"s":"1960","a":68,"v":-1.6},{"s":"1960","a":70,"v":-1.5},{"s":"1960","a":72,"v":-1.42},{"s":"1960","a":74,"v":-1.35},{"s":"1960","a":76,"v":-1.28},{"s":"1960","a":78,"v":-1.2},{"s":"1960","a":80,"v":-1.12},{"s":"1960","a":82,"v":-1.05},{"s":"1960","a":84,"v":-0.98},{"s":"1960","a":86,"v":-0.9},{"s":"1960","a":88,"v":-0.85},{"s":"1960","a":90,"v":-0.8},{"s":"1960","a":92,"v":-0.78},{"s":"1960","a":94,"v":-0.72},{"s":"1960","a":96,"v":-0.66},{"s":"1960","a":98,"v":-0.62},{"s":"1960","a":100,"v":-0.57},
{"s":"1965","a":0,"v":-1.6},{"s":"1965","a":1,"v":-2.55},{"s":"1965","a":2,"v":-2.9},{"s":"1965","a":3,"v":-3.0},{"s":"1965","a":4,"v":-3.08},{"s":"1965","a":5,"v":-3.12},{"s":"1965","a":6,"v":-3.15},{"s":"1965","a":7,"v":-3.18},{"s":"1965","a":8,"v":-3.2},{"s":"1965","a":9,"v":-3.22},{"s":"1965","a":10,"v":-3.25},{"s":"1965","a":11,"v":-3.28},{"s":"1965","a":12,"v":-3.3},{"s":"1965","a":13,"v":-3.25},{"s":"1965","a":14,"v":-3.15},{"s":"1965","a":15,"v":-3.08},{"s":"1965","a":16,"v":-2.98},{"s":"1965","a":17,"v":-2.92},{"s":"1965","a":18,"v":-2.88},{"s":"1965","a":20,"v":-2.95},{"s":"1965","a":22,"v":-2.88},{"s":"1965","a":24,"v":-2.82},{"s":"1965","a":26,"v":-2.83},{"s":"1965","a":28,"v":-2.75},{"s":"1965","a":29,"v":-2.8},{"s":"1965","a":30,"v":-2.68},{"s":"1965","a":31,"v":-2.8},{"s":"1965","a":32,"v":-2.65},{"s":"1965","a":34,"v":-2.62},{"s":"1965","a":36,"v":-2.58},{"s":"1965","a":38,"v":-2.58},{"s":"1965","a":40,"v":-2.5},{"s":"1965","a":41,"v":-2.6},{"s":"1965","a":42,"v":-2.45},{"s":"1965","a":44,"v":-2.4},{"s":"1965","a":46,"v":-2.33},{"s":"1965","a":47,"v":-2.28},{"s":"1965","a":48,"v":-2.37},{"s":"1965","a":49,"v":-2.25},{"s":"1965","a":50,"v":-2.2},{"s":"1965","a":52,"v":-2.12},{"s":"1965","a":54,"v":-2.08},{"s":"1965","a":56,"v":-2.05},{"s":"1965","a":58,"v":-1.97},{"s":"1965","a":59,"v":-2.02},{"s":"1965","a":60,"v":-1.8},{"s":"1965","a":61,"v":-2.0},{"s":"1965","a":62,"v":-1.78},{"s":"1965","a":64,"v":-1.75},{"s":"1965","a":66,"v":-1.68},{"s":"1965","a":67,"v":-1.58},{"s":"1965","a":68,"v":-1.68},{"s":"1965","a":70,"v":-1.5},{"s":"1965","a":71,"v":-1.65},{"s":"1965","a":72,"v":-1.42},{"s":"1965","a":74,"v":-1.33},{"s":"1965","a":76,"v":-1.3},{"s":"1965","a":78,"v":-1.2},{"s":"1965","a":79,"v":-1.25},{"s":"1965","a":80,"v":-1.1},{"s":"1965","a":81,"v":-1.15},{"s":"1965","a":82,"v":-1.02},{"s":"1965","a":84,"v":-0.95},{"s":"1965","a":86,"v":-0.9},{"s":"1965","a":88,"v":-0.85},{"s":"1965","a":89,"v":-0.75},{"s":"1965","a":90,"v":-0.88},{"s":"1965","a":91,"v":-0.95},{"s":"1965","a":92,"v":-0.7},{"s":"1965","a":94,"v":-0.8},{"s":"1965","a":95,"v":-0.72},{"s":"1965","a":96,"v":-0.62},{"s":"1965","a":98,"v":-0.55},{"s":"1965","a":100,"v":-0.5},
{"s":"1975","a":0,"v":-1.8},{"s":"1975","a":1,"v":-2.7},{"s":"1975","a":2,"v":-3.0},{"s":"1975","a":4,"v":-3.12},{"s":"1975","a":6,"v":-3.2},{"s":"1975","a":8,"v":-3.27},{"s":"1975","a":10,"v":-3.3},{"s":"1975","a":12,"v":-3.33},{"s":"1975","a":13,"v":-3.28},{"s":"1975","a":14,"v":-3.2},{"s":"1975","a":16,"v":-3.05},{"s":"1975","a":18,"v":-2.95},{"s":"1975","a":20,"v":-2.9},{"s":"1975","a":22,"v":-2.85},{"s":"1975","a":24,"v":-2.8},{"s":"1975","a":26,"v":-2.75},{"s":"1975","a":28,"v":-2.7},{"s":"1975","a":30,"v":-2.65},{"s":"1975","a":32,"v":-2.63},{"s":"1975","a":34,"v":-2.55},{"s":"1975","a":36,"v":-2.5},{"s":"1975","a":38,"v":-2.45},{"s":"1975","a":40,"v":-2.38},{"s":"1975","a":42,"v":-2.34},{"s":"1975","a":44,"v":-2.3},{"s":"1975","a":46,"v":-2.25},{"s":"1975","a":48,"v":-2.2},{"s":"1975","a":50,"v":-2.14},{"s":"1975","a":52,"v":-2.08},{"s":"1975","a":54,"v":-2.03},{"s":"1975","a":56,"v":-1.98},{"s":"1975","a":58,"v":-1.92},{"s":"1975","a":60,"v":-1.85},{"s":"1975","a":62,"v":-1.78},{"s":"1975","a":64,"v":-1.72},{"s":"1975","a":66,"v":-1.65},{"s":"1975","a":68,"v":-1.58},{"s":"1975","a":70,"v":-1.5},{"s":"1975","a":72,"v":-1.43},{"s":"1975","a":74,"v":-1.36},{"s":"1975","a":76,"v":-1.28},{"s":"1975","a":78,"v":-1.2},{"s":"1975","a":80,"v":-1.12},{"s":"1975","a":82,"v":-1.05},{"s":"1975","a":84,"v":-0.98},{"s":"1975","a":86,"v":-0.9},{"s":"1975","a":88,"v":-0.82},{"s":"1975","a":90,"v":-0.76},{"s":"1975","a":92,"v":-0.7},{"s":"1975","a":94,"v":-0.64},{"s":"1975","a":96,"v":-0.58},{"s":"1975","a":98,"v":-0.53},{"s":"1975","a":100,"v":-0.48},
{"s":"1995","a":0,"v":-2.0},{"s":"1995","a":1,"v":-2.8},{"s":"1995","a":2,"v":-3.1},{"s":"1995","a":4,"v":-3.2},{"s":"1995","a":6,"v":-3.28},{"s":"1995","a":8,"v":-3.35},{"s":"1995","a":10,"v":-3.4},{"s":"1995","a":12,"v":-3.42},{"s":"1995","a":13,"v":-3.38},{"s":"1995","a":14,"v":-3.25},{"s":"1995","a":16,"v":-3.05},{"s":"1995","a":18,"v":-2.9},{"s":"1995","a":20,"v":-2.82},{"s":"1995","a":22,"v":-2.75},{"s":"1995","a":24,"v":-2.72},{"s":"1995","a":26,"v":-2.65},{"s":"1995","a":28,"v":-2.62},{"s":"1995","a":30,"v":-2.55},{"s":"1995","a":32,"v":-2.5},{"s":"1995","a":34,"v":-2.42},{"s":"1995","a":36,"v":-2.35},{"s":"1995","a":38,"v":-2.3},{"s":"1995","a":40,"v":-2.22},{"s":"1995","a":42,"v":-2.15},{"s":"1995","a":44,"v":-2.08},{"s":"1995","a":46,"v":-2.0},{"s":"1995","a":48,"v":-1.95},{"s":"1995","a":50,"v":-1.88},{"s":"1995","a":52,"v":-1.83},{"s":"1995","a":54,"v":-1.78},{"s":"1995","a":56,"v":-1.73},{"s":"1995","a":58,"v":-1.68},{"s":"1995","a":60,"v":-1.6},{"s":"1995","a":62,"v":-1.58},{"s":"1995","a":64,"v":-1.52},{"s":"1995","a":66,"v":-1.45},{"s":"1995","a":68,"v":-1.4},{"s":"1995","a":70,"v":-1.33},{"s":"1995","a":72,"v":-1.3},{"s":"1995","a":74,"v":-1.2},{"s":"1995","a":76,"v":-1.12},{"s":"1995","a":78,"v":-1.05},{"s":"1995","a":80,"v":-0.98},{"s":"1995","a":82,"v":-0.92},{"s":"1995","a":84,"v":-0.85},{"s":"1995","a":86,"v":-0.78},{"s":"1995","a":88,"v":-0.72},{"s":"1995","a":90,"v":-0.65},{"s":"1995","a":92,"v":-0.6},{"s":"1995","a":94,"v":-0.55},{"s":"1995","a":96,"v":-0.5},{"s":"1995","a":98,"v":-0.45},{"s":"1995","a":100,"v":-0.4},
{"s":"2009","a":0,"v":-2.1},{"s":"2009","a":1,"v":-3.15},{"s":"2009","a":2,"v":-3.3},{"s":"2009","a":3,"v":-3.5},{"s":"2009","a":4,"v":-3.52},{"s":"2009","a":5,"v":-3.48},{"s":"2009","a":6,"v":-3.55},{"s":"2009","a":7,"v":-3.6},{"s":"2009","a":8,"v":-3.73},{"s":"2009","a":9,"v":-3.62},{"s":"2009","a":10,"v":-3.65},{"s":"2009","a":11,"v":-3.58},{"s":"2009","a":12,"v":-3.55},{"s":"2009","a":13,"v":-3.52},{"s":"2009","a":14,"v":-3.5},{"s":"2009","a":15,"v":-3.45},{"s":"2009","a":16,"v":-3.3},{"s":"2009","a":17,"v":-3.18},{"s":"2009","a":18,"v":-3.1},{"s":"2009","a":20,"v":-3.0},{"s":"2009","a":22,"v":-2.9},{"s":"2009","a":24,"v":-2.8},{"s":"2009","a":26,"v":-2.7},{"s":"2009","a":28,"v":-2.6},{"s":"2009","a":30,"v":-2.52},{"s":"2009","a":32,"v":-2.45},{"s":"2009","a":34,"v":-2.4},{"s":"2009","a":36,"v":-2.33},{"s":"2009","a":38,"v":-2.28},{"s":"2009","a":40,"v":-2.23},{"s":"2009","a":42,"v":-2.18},{"s":"2009","a":44,"v":-2.12},{"s":"2009","a":46,"v":-2.06},{"s":"2009","a":48,"v":-2.0},{"s":"2009","a":50,"v":-1.95},{"s":"2009","a":52,"v":-1.9},{"s":"2009","a":54,"v":-1.85},{"s":"2009","a":56,"v":-1.8},{"s":"2009","a":58,"v":-1.75},{"s":"2009","a":60,"v":-1.7},{"s":"2009","a":62,"v":-1.65},{"s":"2009","a":64,"v":-1.58},{"s":"2009","a":66,"v":-1.52},{"s":"2009","a":68,"v":-1.45},{"s":"2009","a":70,"v":-1.38},{"s":"2009","a":72,"v":-1.32},{"s":"2009","a":74,"v":-1.25},{"s":"2009","a":76,"v":-1.17},{"s":"2009","a":78,"v":-1.1},{"s":"2009","a":80,"v":-1.03},{"s":"2009","a":82,"v":-0.95},{"s":"2009","a":84,"v":-0.88},{"s":"2009","a":86,"v":-0.8},{"s":"2009","a":88,"v":-0.73},{"s":"2009","a":90,"v":-0.65},{"s":"2009","a":92,"v":-0.6},{"s":"2009","a":94,"v":-0.54},{"s":"2009","a":96,"v":-0.48},{"s":"2009","a":98,"v":-0.42},{"s":"2009","a":100,"v":-0.37}
]
},
"concat": [
{"width": 348, "height": 210, "data": {"name": "bg"},
 "title": {"text": "log(qₓ) - (Bulgaria)", "frame": "group", "dx": 14, "offset": 11},
 "layer": [
  {"mark": {"type": "line", "strokeWidth": 2.3},
   "encoding": {
    "x": {"field": "a", "type": "quantitative", "scale": {"domain": [0, 100], "nice": false}, "axis": {"orient": "top", "values": [0,4,8,12,16,20,24,28,32,36,40,44,48,52,56,60,64,68,72,76,80,84,88,92,96,100], "labelAngle": -90, "labelFontSize": 8, "title": null}},
    "y": {"field": "v", "type": "quantitative", "scale": {"domain": [-4, 0], "nice": false}, "axis": {"values": [0,-0.5,-1,-1.5,-2,-2.5,-3,-3.5,-4], "labelExpr": "replace(replace(format(datum.value, '.1f'), '.', ','), '−', '-')", "title": null}},
    "color": {"field": "s", "type": "nominal", "scale": {"domain": ["1947","1955","1975","1995","2010"], "range": ["#2D5689","#3565A6","#4A7CC0","#809ED0","#B7C7E2"]}}
   }},
  {"mark": {"type": "rule", "opacity": 0},
   "encoding": {"x": {"field": "a", "type": "quantitative", "axis": {"orient": "bottom", "labels": false, "ticks": false, "domain": false, "title": "Age (x)", "titlePadding": 2}}}}
 ],
 "resolve": {"axis": {"x": "independent"}}
},
{"width": 348, "height": 210, "data": {"name": "pl"},
 "title": {"text": "log(qₓ) - (Poland)", "frame": "group", "dx": 13, "offset": 11},
 "layer": [
  {"mark": {"type": "line", "strokeWidth": 2.3},
   "encoding": {
    "x": {"field": "a", "type": "quantitative", "scale": {"domain": [0, 100], "nice": false}, "axis": {"orient": "top", "values": [0,4,8,12,16,20,24,28,32,36,40,44,48,52,56,60,64,68,72,76,80,84,88,92,96,100], "labelAngle": -90, "labelFontSize": 8, "title": null}},
    "y": {"field": "v", "type": "quantitative", "scale": {"domain": [-4.5, 0], "nice": false}, "axis": {"values": [0,-0.5,-1,-1.5,-2,-2.5,-3,-3.5,-4,-4.5], "labelExpr": "replace(replace(format(datum.value, '.1f'), '.', ','), '−', '-')", "title": null}},
    "color": {"field": "s", "type": "nominal", "scale": {"domain": ["1958","1965","1975","1995","2009"], "range": ["#2D5689","#3565A6","#4A7CC0","#809ED0","#B7C7E2"]}}
   }},
  {"mark": {"type": "rule", "opacity": 0},
   "encoding": {"x": {"field": "a", "type": "quantitative", "axis": {"orient": "bottom", "labels": false, "ticks": false, "domain": false, "title": "Age (x)", "titlePadding": 2}}}}
 ],
 "resolve": {"axis": {"x": "independent"}}
},
{"width": 348, "height": 210, "data": {"name": "ru"},
 "title": {"text": "log(qₓ) - (Russia)", "frame": "group", "dx": 14, "offset": 11},
 "layer": [
  {"mark": {"type": "line", "strokeWidth": 2.3},
   "encoding": {
    "x": {"field": "a", "type": "quantitative", "scale": {"domain": [0, 100], "nice": false}, "axis": {"orient": "top", "values": [0,4,8,12,16,20,24,28,32,36,40,44,48,52,56,60,64,68,72,76,80,84,88,92,96,100], "labelAngle": -90, "labelFontSize": 8, "title": null}},
    "y": {"field": "v", "type": "quantitative", "scale": {"domain": [-4, 0], "nice": false}, "axis": {"values": [0,-0.5,-1,-1.5,-2,-2.5,-3,-3.5,-4], "labelExpr": "replace(replace(format(datum.value, '.1f'), '.', ','), '−', '-')", "title": null}},
    "color": {"field": "s", "type": "nominal", "scale": {"domain": ["1960","1970","1975","1995","2010"], "range": ["#2D5689","#3565A6","#4A7CC0","#809ED0","#B7C7E2"]}}
   }},
  {"mark": {"type": "rule", "opacity": 0},
   "encoding": {"x": {"field": "a", "type": "quantitative", "axis": {"orient": "bottom", "labels": false, "ticks": false, "domain": false, "title": "Age (x)", "titlePadding": 2}}}}
 ],
 "resolve": {"axis": {"x": "independent"}}
},
{"width": 348, "height": 210, "data": {"name": "ua"},
 "title": {"text": "log(qₓ) - (Ukraine)", "frame": "group", "dx": 13, "offset": 11},
 "layer": [
  {"mark": {"type": "line", "strokeWidth": 2.3},
   "encoding": {
    "x": {"field": "a", "type": "quantitative", "scale": {"domain": [0, 100], "nice": false}, "axis": {"orient": "top", "values": [0,4,8,12,16,20,24,28,32,36,40,44,48,52,56,60,64,68,72,76,80,84,88,92,96,100], "labelAngle": -90, "labelFontSize": 8, "title": null}},
    "y": {"field": "v", "type": "quantitative", "scale": {"domain": [-4, 0], "nice": false}, "axis": {"values": [0,-0.5,-1,-1.5,-2,-2.5,-3,-3.5,-4], "labelExpr": "replace(replace(format(datum.value, '.1f'), '.', ','), '−', '-')", "title": null}},
    "color": {"field": "s", "type": "nominal", "scale": {"domain": ["1960","1965","1975","1995","2009"], "range": ["#2D5689","#3565A6","#4A7CC0","#809ED0","#B7C7E2"]}}
   }},
  {"mark": {"type": "rule", "opacity": 0},
   "encoding": {"x": {"field": "a", "type": "quantitative", "axis": {"orient": "bottom", "labels": false, "ticks": false, "domain": false, "title": "Age (x)", "titlePadding": 2}}}}
 ],
 "resolve": {"axis": {"x": "independent"}}
}
],
"resolve": {"scale": {"color": "independent"}}
}
